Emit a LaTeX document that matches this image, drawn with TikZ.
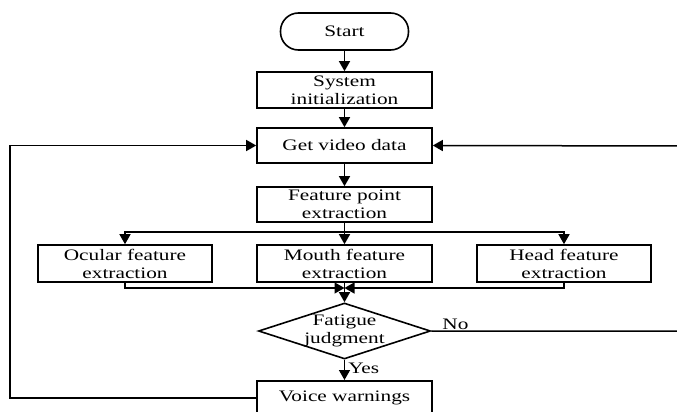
\documentclass[tikz,border=0pt]{standalone}
\usepackage{fontspec}
\setmainfont{Liberation Serif}[FakeStretch=1.33]
\usetikzlibrary{shapes.geometric,arrows.meta}
\begin{document}
\begin{tikzpicture}[x=1pt,y=-1pt,
  every node/.style={font=\fontsize{16}{18}\selectfont},
  box/.style={draw,line width=1.6pt,minimum width=175pt,minimum height=36pt,inner sep=0pt,align=center},
  term/.style={box,minimum width=128pt,minimum height=37pt,rounded corners=18pt},
  dia/.style={draw,line width=1.6pt,diamond,aspect=3.07,minimum width=172pt,minimum height=56pt,inner sep=0pt},
  line/.style={line width=1.5pt},
  arr/.style={line,-{Triangle[length=10pt,width=11pt]}},
  lbl/.style={inner sep=0pt,font=\fontsize{16}{18}\selectfont}]
\useasboundingbox (0,0) rectangle (677,412);
\node[term] (start) at (344.5,31.5) {Start};
\node[box] (init) at (344.5,90) {System\\initialization};
\node[box,minimum height=35pt] (video) at (344.5,145.5) {Get video data};
\node[box,minimum height=35pt] (fpe) at (344.5,204.5) {Feature point\\extraction};
\node[box,minimum width=174pt,minimum height=37pt] (ocular) at (125,263.5) {Ocular feature\\extraction};
\node[box,minimum height=37pt] (mouth) at (344.5,263.5) {Mouth feature\\extraction};
\node[box,minimum width=174pt,minimum height=37pt] (head) at (564,263.5) {Head feature\\extraction};
\node[dia] (judge) at (344.5,331) {};
\node[align=center,inner sep=0pt] (judgetext) at (judge.center) {Fatigue\\judgment};
\node[box,minimum height=34pt,anchor=north] (voice) at (344.5,380) {\raisebox{-1pt}{Voice warnings}};
\coordinate (split) at (344.5,232);
\coordinate (merge) at (344.5,288);
\coordinate (rnd) at (692,331);
\coordinate (rtop) at (692,146);
\coordinate (lft) at (10,398);
\draw[arr] (start) -- (init);
\draw[arr] (init) -- (video);
\draw[arr] (video) -- (fpe);
\draw[arr] (fpe) -- (mouth);
\draw[arr] (split) -| (ocular.north);
\draw[arr] (split) -| (head.north);
\draw[arr] (ocular.south) |- (merge);
\draw[arr] (head.south) |- (merge);
\draw[arr] (mouth) -- (judge.north);
\draw[arr] (judge.south) -- node[lbl,right=3pt,pos=0.4] (yes) {Yes} (voice.north);
\draw[arr] (judge.east) -- node[lbl,above=1pt,pos=0.04,anchor=south west] (no) {No} (rnd) -- (rtop) -- (video.east);
\draw[arr] (voice.west |- lft) -- (lft) |- (video.west);
\end{tikzpicture}
\end{document}
